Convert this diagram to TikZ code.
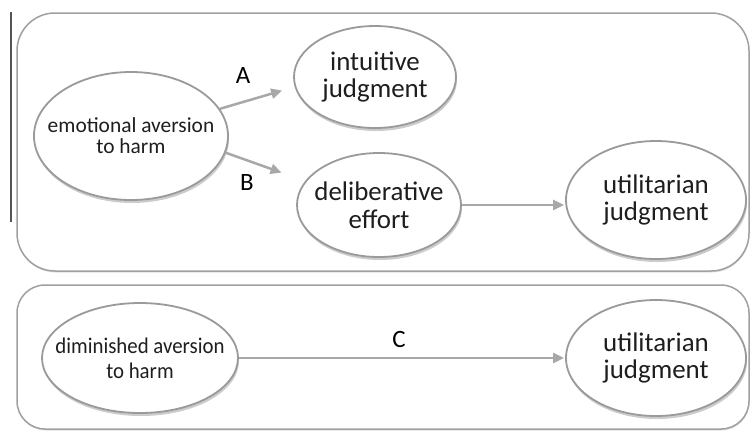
\documentclass[tikz,border=0pt]{standalone}
\usepackage{fontspec}
\setmainfont{Carlito}
\newfontfamily\condfont[FakeStretch=0.93]{Carlito}
\usetikzlibrary{shapes.geometric,arrows.meta,shadows}
\definecolor{edgegray}{HTML}{9A9A9A}
\definecolor{boxgray}{HTML}{A0A0A0}
\definecolor{arrgray}{HTML}{A8A8A8}
\definecolor{txtcol}{HTML}{1E1E1E}
\definecolor{vlinecol}{HTML}{555555}
\begin{document}
\begin{tikzpicture}[x=1bp,y=-1bp,
  oval/.style={ellipse, draw=edgegray, line width=1.8bp, fill=white, inner sep=0pt,
    drop shadow={shadow xshift=1bp, shadow yshift=-3bp, opacity=0.2, fill=black}},
  bigtext/.style={text=txtcol, align=center, inner sep=0pt, font=\fontsize{27}{28}\selectfont},
  emotext/.style={text=txtcol, align=center, inner sep=0pt, font=\fontsize{21.5}{21}\selectfont},
  dimtext/.style={text=txtcol, align=center, inner sep=0pt, font=\condfont\fontsize{22.5}{25}\selectfont},
  letter/.style={text=black, inner sep=0pt, font=\fontsize{25}{25}\selectfont},
  arr/.style={draw=arrgray, line width=2.5bp, -{Triangle[length=11bp,width=10bp]}},
  box/.style={draw=boxgray, line width=1.5bp, fill=white,
    drop shadow={shadow xshift=0.5bp, shadow yshift=-1.5bp, opacity=0.12, fill=black}},
  vline/.style={draw=vlinecol, line width=1.2bp}
]
\fill[white] (0,0) rectangle (752,432);
\useasboundingbox (0,0) rectangle (752,432);

% panels
\draw[box, rounded corners=38bp] (17,13) rectangle (749,271);
\draw[box, rounded corners=28bp] (17,285) rectangle (749,429);
\draw[vline] (11,12) -- (11,222);

% top panel nodes
\node[oval, minimum width=194bp, minimum height=128bp,
  label={[emotext]center:{emotional aversion\\to harm}}] (emo) at (131,136) {};
\node[oval, minimum width=162bp, minimum height=102bp,
  label={[bigtext]center:{intuitive\\judgment}}] (intu) at (375,77) {};
\node[oval, minimum width=164bp, minimum height=104bp,
  label={[bigtext]center:{deliberative\\effort}}] (delib) at (379,205) {};
\node[oval, minimum width=180bp, minimum height=118bp,
  label={[bigtext]center:{utilitarian\\judgment}}] (util) at (656,200) {};

% bottom panel nodes
\node[oval, minimum width=196bp, minimum height=110bp,
  label={[dimtext]center:{diminished aversion\\to harm}}] (dim) at (140,358) {};
\node[oval, minimum width=180bp, minimum height=116bp,
  label={[bigtext]center:{utilitarian\\judgment}}] (util2) at (656,358) {};

% connectors
\draw[arr, shorten >=13bp] (emo.17) -- (intu.187);
\draw[arr, shorten >=25bp] (emo.-10) -- (delib.162);
\draw[arr, shorten >=1bp] (delib.east) -- (delib.east -| util.west);
\draw[arr, shorten >=1bp] (dim.east) -- (util2.west);

% labels
\node[letter] (la) at (243,76) {A};
\node[letter] (lb) at (247,183) {B};
\node[letter] (lc) at (399,339) {C};
\end{tikzpicture}
\end{document}
